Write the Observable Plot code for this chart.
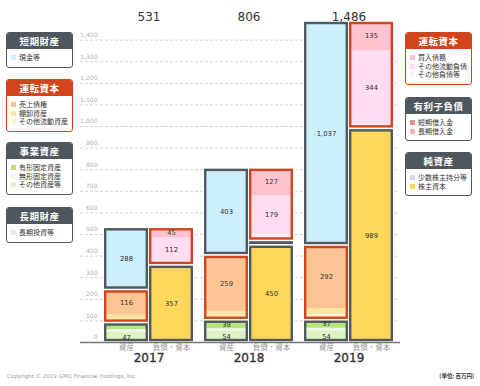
<!DOCTYPE html>
<html><head><meta charset="utf-8">
<script src="https://cdn.jsdelivr.net/npm/d3@7"></script>
<script src="https://cdn.jsdelivr.net/npm/@observablehq/plot@0.6"></script>
<style>
html,body{margin:0;padding:0;background:#fff;}
#wrap{position:relative;width:480px;height:386px;overflow:hidden;font-family:"Noto Sans CJK JP","DejaVu Sans",sans-serif;}
#chart{position:absolute;left:0;top:0;}
.box{position:absolute;width:65px;border:1.5px solid #4f575e;border-radius:3px;background:#fff;overflow:hidden;}
.box.red{border-color:#d0451c;}
.box .hd{background:#4f575e;color:#fff;font-weight:700;font-size:9.5px;height:16px;line-height:16px;text-align:center;letter-spacing:0.5px;}
.box.red .hd{background:#d0451c;}
.box .bd{padding:4px 2px 5px 4px;}
.box .it{font-size:7px;line-height:8.5px;height:8.5px;color:#333;white-space:nowrap;}
.box .sw{display:inline-block;width:5px;height:5px;margin-right:3px;vertical-align:0px;}
.note{position:absolute;font-size:5.5px;white-space:nowrap;}
</style></head>
<body><div id="wrap"><div id="chart"></div></div>
<script>
// ---- data ----
const years = ["2017", "2018", "2019"];
const totals = [531, 806, 1486];
const sides = ["資産", "負債・資本"];
const yTicks = [0, 100, 200, 300, 400, 500, 600, 700, 800, 900, 1000, 1100, 1200, 1300, 1400];

// assets (bottom to top)
const otherAssets = [47, 54, 54];      // その他資産等
const intangible = [13, 10, 12];       // 無形固定資産
const tangible = [30, 39, 37];         // 有形固定資産
const otherCurrent = [17, 19, 26];     // その他流動資産
const inventory = [20, 22, 28];        // 棚卸資産
const receivables = [116, 259, 292];   // 売上債権
const cash = [288, 403, 1037];         // 現金等

// liabilities & equity (bottom to top)
const equity = [357, 450, 989];        // 株主資本
const minority = [0, 0, 0];            // 少数株主持分等
const longBorrow = [0, 6, 0];          // 長期借入金
const shortBorrow = [0, 14, 0];        // 短期借入金
const otherLiab = [17, 30, 18];        // その他負債等
const otherCurLiab = [112, 179, 344];  // その他流動負債
const payables = [45, 127, 135];       // 買入債務

// ---- styles ----
const GRAY = "#525a61", RED = "#d0451c";
const C = {
  cash: "#cdeefc", receivables: "#fdc594", inventory: "#fee5a2", otherCurrent: "#fff3cf",
  tangible: "#b6e57b", intangible: "#eef8e6", otherAssets: "#dff4c4", longTerm: "#d6f1fb",
  payables: "#ffc3d0", otherCurLiab: "#ffdcef", otherLiab: "#fff0f7",
  shortBorrow: "#f38b8b", longBorrow: "#f9b4b4", minority: "#d4d8f6", equity: "#fdd85d"
};

const assetGroups = [
  {stroke: GRAY, items: [[otherAssets, C.otherAssets], [intangible, C.intangible], [tangible, C.tangible]]},
  {stroke: RED, items: [[otherCurrent, C.otherCurrent], [inventory, C.inventory], [receivables, C.receivables]]},
  {stroke: GRAY, items: [[cash, C.cash]]}
];
const liabGroups = [
  {stroke: GRAY, items: [[equity, C.equity], [minority, C.minority]]},
  {stroke: GRAY, items: [[longBorrow, C.longBorrow], [shortBorrow, C.shortBorrow]]},
  {stroke: RED, items: [[otherLiab, C.otherLiab], [otherCurLiab, C.otherCurLiab], [payables, C.payables]]}
];

const segs = [], boxes = [];
function build(side, groups) {
  years.forEach((year, i) => {
    let acc = 0;
    for (const g of groups) {
      const start = acc;
      for (const [vals, color] of g.items) {
        const v = vals[i];
        if (v > 0) segs.push({year, side, value: v, y1: acc, y2: acc + v, color});
        acc += v;
      }
      if (acc > start) boxes.push({year, side, y1: start, y2: acc, stroke: g.stroke});
    }
  });
}
build(sides[0], assetGroups);
build(sides[1], liabGroups);

const fmt = d3.format(",");
const A = d => d.side === sides[0];
const L = d => d.side === sides[1];
const insA = {insetLeft: 4, insetRight: 52};
const insL = {insetLeft: 49, insetRight: 7};
const totalsData = years.map((y, i) => ({year: y, total: totals[i]}));
const sideLabels = years.flatMap(y => sides.map(s => ({year: y, side: s})));

function layer(filter, ins) {
  const s = segs.filter(filter), b = boxes.filter(filter);
  return [
    Plot.barY(s, {x: "year", y1: "y1", y2: "y2", fill: "color", ...ins}),
    Plot.barY(b, {x: "year", y1: "y1", y2: "y2", fill: "none", stroke: "white", strokeWidth: 1.6, ...ins}),
  ];
}
function outline(filter, ins) {
  const b = boxes.filter(filter);
  return Plot.barY(b, {x: "year", y1: "y1", y2: "y2", fill: "none", stroke: "stroke", strokeWidth: 2.4,
    insetLeft: ins.insetLeft + 1.2, insetRight: ins.insetRight + 1.2, insetTop: 2, insetBottom: 2});
}
function labels(filter, dx) {
  return Plot.text(segs.filter(d => filter(d) && d.value >= 35), {
    x: "year", y: d => (d.y1 + d.y2) / 2, text: d => fmt(d.value), dx, fontSize: 6.8, fill: "#333"});
}

const plot = Plot.plot({
  width: 480, height: 386,
  marginLeft: 80, marginRight: 80, marginTop: 18, marginBottom: 44,
  style: {fontFamily: "'DejaVu Sans','Noto Sans CJK JP',sans-serif", background: "transparent"},
  x: {domain: years, paddingInner: 0, paddingOuter: 0.1, align: 1, axis: null},
  y: {domain: [0, 1500], axis: null},
  color: {type: "identity"},
  marks: [
    Plot.ruleY(yTicks.filter(d => d > 0), {y: d => d, stroke: "#c9c9c9", strokeDasharray: "3,2", strokeWidth: 0.8}),
    Plot.text(yTicks, {y: d => d, text: d => fmt(d), frameAnchor: "left", dx: 17, dy: -5, textAnchor: "end", fontSize: 6, fill: "#b0b0b0"}),
    ...layer(A, insA), ...layer(L, insL),
    outline(A, insA), outline(L, insL),
    labels(A, -24), labels(L, 21),
    Plot.ruleY([0], {stroke: "#777", strokeWidth: 1.5}),
    Plot.text(totalsData, {x: "year", text: d => fmt(d.total), frameAnchor: "top", dy: -6, dx: -1.5, fontSize: 12, fill: "#333"}),
    Plot.text(sideLabels, {x: "year", text: "side", frameAnchor: "bottom", dy: 7,
      fontSize: 7.5, fill: "#999", filter: A, dx: -24}),
    Plot.text(sideLabels, {x: "year", text: "side", frameAnchor: "bottom", dy: 7,
      fontSize: 7.5, fill: "#999", filter: L, dx: 21}),
    Plot.text(years, {x: d => d, text: d => d, frameAnchor: "bottom", dy: 19, dx: -1.5, fontSize: 12, fill: "#333",
      stroke: "#333", strokeWidth: 0.35, style: "letter-spacing:0.8px"})
  ]
});
document.getElementById("chart").appendChild(plot);

// ---- legends ----
const legends = [
  {left: 6, top: 32, red: false, title: "短期財産", items: [["現金等", C.cash]]},
  {left: 6, top: 79, red: true, title: "運転資本", items: [["売上債権", C.receivables], ["棚卸資産", C.inventory], ["その他流動資産", C.otherCurrent]]},
  {left: 6, top: 142, red: false, title: "事業資産", items: [["有形固定資産", C.tangible], ["無形固定資産", C.intangible], ["その他資産等", C.otherAssets]]},
  {left: 6, top: 207, red: false, title: "長期財産", items: [["長期投資等", C.longTerm]]},
  {left: 405, top: 32, red: true, title: "運転資本", items: [["買入債務", C.payables], ["その他流動負債", C.otherCurLiab], ["その他負債等", C.otherLiab]]},
  {left: 405, top: 97, red: false, title: "有利子負債", items: [["短期借入金", C.shortBorrow], ["長期借入金", C.longBorrow]]},
  {left: 405, top: 152, red: false, title: "純資産", items: [["少数株主持分等", C.minority], ["株主資本", C.equity]]}
];
const wrap = document.getElementById("wrap");
for (const lg of legends) {
  const el = document.createElement("div");
  el.className = "box" + (lg.red ? " red" : "");
  el.style.left = lg.left + "px"; el.style.top = lg.top + "px";
  el.innerHTML = `<div class="hd">${lg.title}</div><div class="bd">` +
    lg.items.map(([t, c]) => `<div class="it"><span class="sw" style="background:${c}"></span>${t}</div>`).join("") + `</div>`;
  wrap.appendChild(el);
}
const n1 = document.createElement("div");
n1.className = "note"; n1.style.left = "7px"; n1.style.top = "373px"; n1.style.color = "#9a9a9a";
n1.style.fontFamily = "'DejaVu Sans',sans-serif";
n1.textContent = "Copyright © 2019 GMO Financial Holdings, Inc.";
wrap.appendChild(n1);
const n2 = document.createElement("div");
n2.className = "note"; n2.style.right = "6px"; n2.style.top = "372px"; n2.style.color = "#333";
n2.style.fontWeight = "700";
n2.textContent = "(単位: 百万円)";
wrap.appendChild(n2);
</script>
</body></html>
